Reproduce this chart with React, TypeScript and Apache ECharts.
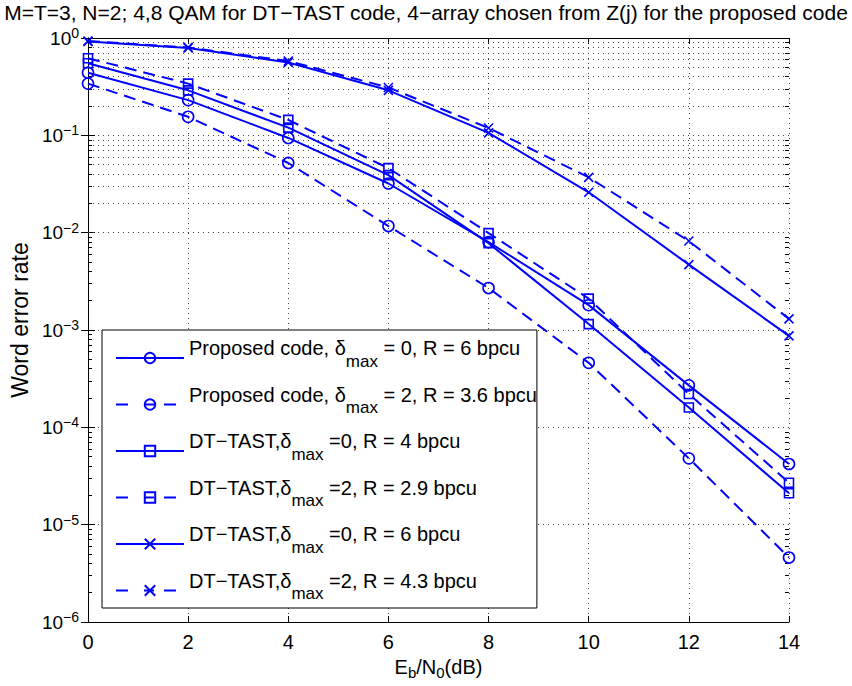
import React, { useEffect, useRef } from 'react';
import * as echarts from 'echarts';

const snr = [0, 2, 4, 6, 8, 10, 12, 14];
const propD0R6 = [0.44, 0.23, 0.094, 0.032, 0.008, 0.0018, 2.7e-4, 4.2e-5];
const propD2R36 = [0.34, 0.155, 0.052, 0.0117, 0.0027, 4.6e-4, 4.8e-5, 4.6e-6];
const dtD0R4 = [0.55, 0.29, 0.12, 0.039, 0.0078, 0.00115, 1.6e-4, 2.1e-5];
const dtD2R29 = [0.62, 0.34, 0.144, 0.046, 0.0099, 0.0021, 2.2e-4, 2.7e-5];
const dtD0R6 = [0.92, 0.79, 0.56, 0.29, 0.106, 0.026, 0.0047, 8.7e-4];
const dtD2R43 = [0.93, 0.8, 0.58, 0.31, 0.119, 0.037, 0.0082, 0.0013];

const seriesNames = [
  'Proposed code, δmax = 0, R = 6 bpcu',
  'Proposed code, δmax = 2, R = 3.6 bpcu',
  'DT−TAST,δmax =0, R = 4 bpcu',
  'DT−TAST,δmax =2, R = 2.9 bpcu',
  'DT−TAST,δmax =0, R = 6 bpcu',
  'DT−TAST,δmax =2, R = 4.3 bpcu',
];
const legendRich: Record<string, string> = {
  [seriesNames[0]]: '{t|Proposed code, δ}{s|max}{t| = 0, R = 6 bpcu}',
  [seriesNames[1]]: '{t|Proposed code, δ}{s|max}{t| = 2, R = 3.6 bpcu}',
  [seriesNames[2]]: '{t|DT−TAST,δ}{s|max}{t| =0, R = 4 bpcu}',
  [seriesNames[3]]: '{t|DT−TAST,δ}{s|max}{t| =2, R = 2.9 bpcu}',
  [seriesNames[4]]: '{t|DT−TAST,δ}{s|max}{t| =0, R = 6 bpcu}',
  [seriesNames[5]]: '{t|DT−TAST,δ}{s|max}{t| =2, R = 4.3 bpcu}',
};
const titleText = 'M=T=3, N=2; 4,8 QAM for DT−TAST code, 4−array chosen from Z(j) for the proposed code';
const yDecades = [-6, -5, -4, -3, -2, -1];
const minorMultipliers = [2, 3, 4, 5, 6, 7, 8, 9];

const BLUE = '#0000ff';
const FONT = "'Liberation Sans', Arial, Helvetica, sans-serif";
const CROSS = 'path://M0,0L10,10M10,0L0,10';

export default function App() {
  const ref = useRef<HTMLDivElement>(null);
  useEffect(() => {
    document.body.style.margin = '0';
    if (!ref.current) return;
    const chart = echarts.init(ref.current, undefined, { renderer: 'svg' });

    const solid = { color: BLUE, width: 2, type: 'solid' as const };
    const dashed = { color: BLUE, width: 2, type: [12, 7] };
    const symStyle = { color: 'transparent', borderColor: BLUE, borderWidth: 1.6 };

    const mk = (name: string, data: number[], symbol: string, size: number, dash: boolean) => ({
      name,
      type: 'line',
      z: 5,
      data: snr.map((x, i) => [x, data[i]]),
      symbol,
      symbolSize: size,
      showAllSymbol: true,
      lineStyle: dash ? dashed : solid,
      itemStyle: symStyle,
      emphasis: { disabled: true },
    });

    const minorVals: number[] = [];
    yDecades.forEach((d) => minorMultipliers.forEach((m) => minorVals.push(m * Math.pow(10, d))));

    const gridLines = minorVals.map((v) => ({ yAxis: v }));
    const tickLines: any[] = [];
    minorVals.forEach((v) => {
      tickLines.push([{ coord: [0, v] }, { coord: [0.08, v] }]);
      tickLines.push([{ coord: [13.92, v] }, { coord: [14, v] }]);
    });

    const option: any = {
      animation: false,
      backgroundColor: '#ffffff',
      title: {
        text: titleText,
        left: 'center',
        top: 2,
        padding: 0,
        textStyle: { fontFamily: FONT, fontSize: 21, lineHeight: 20, fontWeight: 'normal', color: '#000' },
      },
      grid: { left: 87, right: 63, top: 38, bottom: 64 },
      legend: {
        orient: 'vertical',
        left: 102,
        top: 330,
        itemWidth: 68,
        itemHeight: 13,
        itemGap: 15,
        padding: [8, 0, 6, 13],
        backgroundColor: '#ffffff',
        borderColor: '#000',
        borderWidth: 1,
        borderRadius: 0,
        selectedMode: false,
        data: seriesNames.map((n, i) =>
          i % 2 === 1 ? { name: n, lineStyle: { type: [12, 16, 10, 10, 12, 200] } } : { name: n }
        ),
        formatter: (name: string) => legendRich[name],
        textStyle: {
          fontFamily: FONT,
          color: '#000',
          rich: {
            t: { fontFamily: FONT, fontSize: 20, color: '#000', padding: [0, 0, 20, 0] },
            s: { fontFamily: FONT, fontSize: 17, color: '#000', padding: [6, 0, 0, 0] },
          },
        },
      },
      xAxis: [
        {
          type: 'value',
          min: 0,
          max: 14,
          interval: 2,
          name: '{t|E}{s|b}{t|/N}{s|0}{t|(dB)}',
          nameLocation: 'middle',
          nameGap: 28,
          nameTextStyle: {
            rich: {
              t: { fontFamily: FONT, fontSize: 20, color: '#000' },
              s: { fontFamily: FONT, fontSize: 15, color: '#000', padding: [12, 0, 0, 0] },
            },
          },
          axisLine: { show: true, lineStyle: { color: '#000', width: 1 } },
          axisTick: { show: true, inside: true, length: 6, lineStyle: { color: '#000' } },
          axisLabel: { fontFamily: FONT, fontSize: 20, color: '#000', margin: 10 },
          splitLine: { show: true, lineStyle: { color: '#444', width: 1, type: [1, 4] } },
        },
        {
          type: 'value',
          position: 'top',
          min: 0,
          max: 14,
          interval: 2,
          axisLine: { show: true, lineStyle: { color: '#000', width: 1 } },
          axisTick: { show: true, inside: true, length: 6, lineStyle: { color: '#000' } },
          axisLabel: { show: false },
          splitLine: { show: false },
        },
      ],
      yAxis: [
        {
          type: 'log',
          logBase: 10,
          min: 1e-6,
          max: 1,
          name: 'Word error rate',
          nameLocation: 'middle',
          nameGap: 53,
          nameTextStyle: { fontFamily: FONT, fontSize: 23, color: '#000', padding: [0, 0, 0, 20] },
          axisLine: { show: true, lineStyle: { color: '#000', width: 1 } },
          axisTick: { show: true, inside: true, length: 7, lineStyle: { color: '#000' } },
          axisLabel: {
            margin: 9,
            formatter: (v: number) => {
              const e = Math.round(Math.log10(v));
              return `{b|10}{s|${e === 0 ? '0' : '−' + -e}}`;
            },
            rich: {
              b: { fontFamily: FONT, fontSize: 19, color: '#000' },
              s: { fontFamily: FONT, fontSize: 14, color: '#000', padding: [0, 0, 10, 0] },
            },
          },
          splitLine: { show: true, lineStyle: { color: '#444', width: 1, type: [1, 4] } },
        },
        {
          type: 'log',
          logBase: 10,
          min: 1e-6,
          max: 1,
          position: 'right',
          axisLine: { show: true, lineStyle: { color: '#000', width: 1 } },
          axisTick: { show: true, inside: true, length: 7, lineStyle: { color: '#000' } },
          axisLabel: { show: false },
          splitLine: { show: false },
        },
      ],
      series: [
        {
          name: '__grid',
          type: 'line',
          data: [],
          z: 1,
          silent: true,
          markLine: {
            silent: true,
            symbol: 'none',
            animation: false,
            label: { show: false },
            lineStyle: { color: '#444', width: 1, type: [1, 4] },
            emphasis: { disabled: true },
            data: gridLines,
          },
        },
        {
          name: '__ticks',
          type: 'line',
          data: [],
          z: 2,
          silent: true,
          markLine: {
            silent: true,
            symbol: 'none',
            animation: false,
            label: { show: false },
            lineStyle: { color: '#000', width: 1, type: 'solid' },
            emphasis: { disabled: true },
            data: tickLines,
          },
        },
        mk(seriesNames[0], propD0R6, 'circle', 11, false),
        mk(seriesNames[1], propD2R36, 'circle', 11, true),
        mk(seriesNames[2], dtD0R4, 'rect', 9, false),
        mk(seriesNames[3], dtD2R29, 'rect', 9, true),
        mk(seriesNames[4], dtD0R6, CROSS, 9, false),
        mk(seriesNames[5], dtD2R43, CROSS, 9, true),
      ],
    };
    chart.setOption(option);
    return () => chart.dispose();
  }, []);
  return <div ref={ref} style={{ width: 852, height: 686 }} />;
}
